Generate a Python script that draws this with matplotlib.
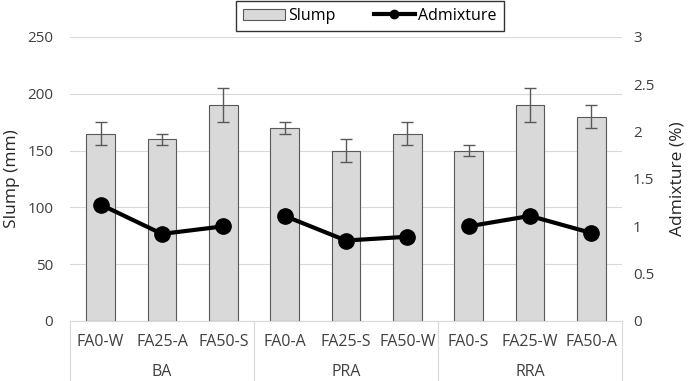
import numpy as np
import matplotlib.pyplot as plt
from matplotlib.lines import Line2D
from matplotlib.patches import Patch

plt.rcParams['font.family'] = ['Open Sans', 'DejaVu Sans']

# data
groups = ['BA', 'PRA', 'RRA']
labels = ['FA0-W', 'FA25-A', 'FA50-S',
          'FA0-A', 'FA25-S', 'FA50-W',
          'FA0-S', 'FA25-W', 'FA50-A']
slump = [165, 160, 190, 170, 150, 165, 150, 190, 180]
slump_err = [10, 5, 15, 5, 10, 10, 5, 15, 10]
admixture = [1.23, 0.92, 1.0, 1.11, 0.85, 0.89, 1.0, 1.11, 0.93]

fig = plt.figure(figsize=(6.9, 3.81), dpi=100)
ax = fig.add_axes([70/690, 1-321/381, 552/690, 284/381])
ax2 = ax.twinx()

x = np.arange(len(labels))
ax.bar(x, slump, width=0.47, color='#d9d9d9', edgecolor='#595959', linewidth=0.8,
       yerr=slump_err, error_kw=dict(ecolor='#595959', elinewidth=1, capsize=4, capthick=1),
       zorder=2)
ax.set_ylim(0, 250)
ax.set_yticks(range(0, 251, 50))
ax.set_xlim(-0.5, len(labels) - 0.5)
ax.grid(axis='y', color='#d9d9d9', linewidth=0.8, zorder=0)
ax.set_axisbelow(True)

# admixture on right axis, separate line per group
for g in range(len(groups)):
    sl = slice(g*3, g*3+3)
    ax2.plot(x[sl], admixture[sl], color='black', linewidth=3, marker='o', markersize=11,
             zorder=3)
ax2.set_ylim(0, 3)
ax2.set_yticks([0, 0.5, 1, 1.5, 2, 2.5, 3])
ax2.set_yticklabels(['0', '0.5', '1', '1.5', '2', '2.5', '3'])

for a in (ax, ax2):
    for s in a.spines.values():
        s.set_visible(False)
    a.tick_params(length=0, labelsize=11, colors='#404040')
ax.tick_params(axis='y', pad=12)
ax2.tick_params(axis='y', pad=8)
ax.spines['bottom'].set_visible(True)
ax.spines['bottom'].set_color('#d9d9d9')

ax.set_ylabel('Slump (mm)', fontsize=12.5, color='#262626', labelpad=5)
ax2.set_ylabel('Admixture (%)', fontsize=12.5, color='#262626', labelpad=11)

# multi-level category axis
ax.set_xticks([])
trans = ax.get_xaxis_transform()
for i, lab in enumerate(labels):
    ax.text(i, -0.075, lab, transform=trans, ha='center', va='center',
            fontsize=11.5, color='#404040')
for g, name in enumerate(groups):
    ax.text(g*3 + 1, -0.18, name, transform=trans, ha='center', va='center',
            fontsize=11.5, color='#404040')
for b in [-0.5, 2.5, 5.5, 8.5]:
    ax.add_line(Line2D([b, b], [0, -0.23], transform=trans, color='#d9d9d9',
                       linewidth=0.8, clip_on=False))

# legend
handles = [Patch(facecolor='#d9d9d9', edgecolor='#595959', linewidth=0.8),
           Line2D([], [], color='black', linewidth=3, marker='o', markersize=6)]
leg = fig.legend(handles, ['Slump', 'Admixture'], loc='upper center',
                 bbox_to_anchor=(370/690, 1.0), ncol=2, frameon=True, fancybox=False,
                 fontsize=11.5, handlelength=2.6, handletextpad=0.2,
                 columnspacing=2.4, borderpad=0.45, borderaxespad=0.05)
leg.get_frame().set_edgecolor('black')
leg.get_frame().set_linewidth(1)

fig.savefig('out.png', dpi=100)
